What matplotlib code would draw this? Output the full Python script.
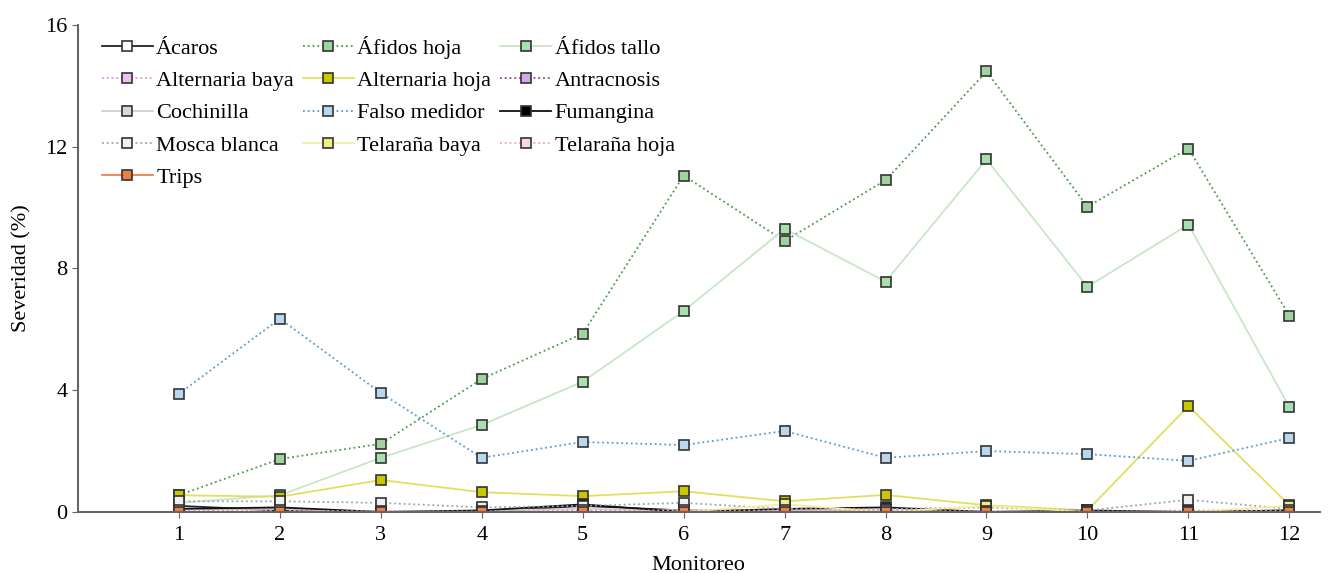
import matplotlib
matplotlib.use('Agg')
import matplotlib.pyplot as plt

plt.rcParams['font.family'] = ['Liberation Serif', 'DejaVu Serif']

monitoreo = list(range(1, 13))

acaros = [0.2, 0.05, 0.0, 0.0, 0.2, 0.05, 0.0, 0.0, 0.0, 0.0, 0.0, 0.05]
afidos_hoja = [0.55, 1.74, 2.24, 4.37, 5.86, 11.05, 8.9, 10.9, 14.47, 10.03, 11.94, 6.45]
afidos_tallo = [0.3, 0.55, 1.78, 2.86, 4.28, 6.6, 9.3, 7.57, 11.58, 7.4, 9.44, 3.45]
alternaria_baya = [0.05, 0.05, 0.02, 0.02, 0.05, 0.05, 0.03, 0.05, 0.02, 0.02, 0.05, 0.05]
alternaria_hoja = [0.55, 0.5, 1.05, 0.65, 0.52, 0.68, 0.35, 0.56, 0.22, 0.05, 3.48, 0.22]
antracnosis = [0.02, 0.02, 0.0, 0.0, 0.02, 0.02, 0.0, 0.02, 0.0, 0.0, 0.0, 0.02]
cochinilla = [0.1, 0.1, 0.0, 0.05, 0.1, 0.05, 0.05, 0.05, 0.0, 0.0, 0.0, 0.05]
falso_medidor = [3.88, 6.35, 3.91, 1.78, 2.3, 2.2, 2.66, 1.78, 2.0, 1.9, 1.68, 2.43]
fumangina = [0.1, 0.15, 0.0, 0.05, 0.25, 0.0, 0.1, 0.15, 0.0, 0.05, 0.0, 0.05]
mosca_blanca = [0.35, 0.35, 0.3, 0.15, 0.2, 0.3, 0.1, 0.1, 0.15, 0.05, 0.4, 0.1]
telarana_baya = [0.0, 0.0, 0.0, 0.0, 0.0, 0.0, 0.25, 0.0, 0.2, 0.0, 0.0, 0.2]
telarana_hoja = [0.05, 0.05, 0.02, 0.02, 0.05, 0.05, 0.05, 0.05, 0.02, 0.02, 0.02, 0.05]
trips = [0.0] * 12

series = [
    ('Ácaros', acaros, '#222222', '-', 'white'),
    ('Áfidos hoja', afidos_hoja, '#4a9a4a', ':', '#9fd49f'),
    ('Áfidos tallo', afidos_tallo, '#c8e6c8', '-', '#a8e0b0'),
    ('Alternaria baya', alternaria_baya, '#e090e0', ':', '#f0c0f0'),
    ('Alternaria hoja', alternaria_hoja, '#e0e060', '-', '#c8c800'),
    ('Antracnosis', antracnosis, '#9040a0', ':', '#d8a8e8'),
    ('Cochinilla', cochinilla, '#d0d0d0', '-', '#d8d8d8'),
    ('Falso medidor', falso_medidor, '#5a9ad0', ':', '#b8d8f0'),
    ('Fumangina', fumangina, '#111111', '-', '#000000'),
    ('Mosca blanca', mosca_blanca, '#a0a0b0', ':', '#f0f0f0'),
    ('Telaraña baya', telarana_baya, '#f0f0a0', '-', '#f0f080'),
    ('Telaraña hoja', telarana_hoja, '#f0a0b0', ':', '#f8d8e0'),
    ('Trips', trips, '#f08050', '-', '#f08040'),
]

fig = plt.figure(figsize=(13.28, 5.73), dpi=100)
ax = fig.add_axes([0.0587, 0.1065, 0.935, 0.85])

for name, vals, color, ls, face in series:
    ax.plot(monitoreo, vals, color=color, linestyle=ls, linewidth=1.3,
            marker='s', markersize=7.5, markerfacecolor=face,
            markeredgecolor='#333333', markeredgewidth=1.2, label=name)

ax.set_xlim(0, 12.3)
ax.set_ylim(0, 16)
ax.set_xticks(monitoreo)
ax.set_yticks([0, 4, 8, 12, 16])
ax.tick_params(labelsize=16, color='#666666', length=4)
ax.tick_params(axis='x', pad=6)
for side in ['top', 'right']:
    ax.spines[side].set_visible(False)
for side in ['left', 'bottom']:
    ax.spines[side].set_color('#666666')
    ax.spines[side].set_linewidth(1.5)

ax.set_xlabel('Monitoreo', fontsize=16, labelpad=8)
ax.set_ylabel('Severidad (%)', fontsize=16, labelpad=10)

# row-major legend order like the original
handles, labels = ax.get_legend_handles_labels()
order = [i for c in range(3) for i in range(c, len(handles), 3)]
ax.legend([handles[i] for i in order], [labels[i] for i in order],
          ncol=3, loc='upper left', bbox_to_anchor=(0.003, 1.019),
          frameon=False, fontsize=16, handlelength=2.3, handletextpad=0.15,
          columnspacing=0.4, labelspacing=0.53)

plt.savefig('out.png', dpi=100)
